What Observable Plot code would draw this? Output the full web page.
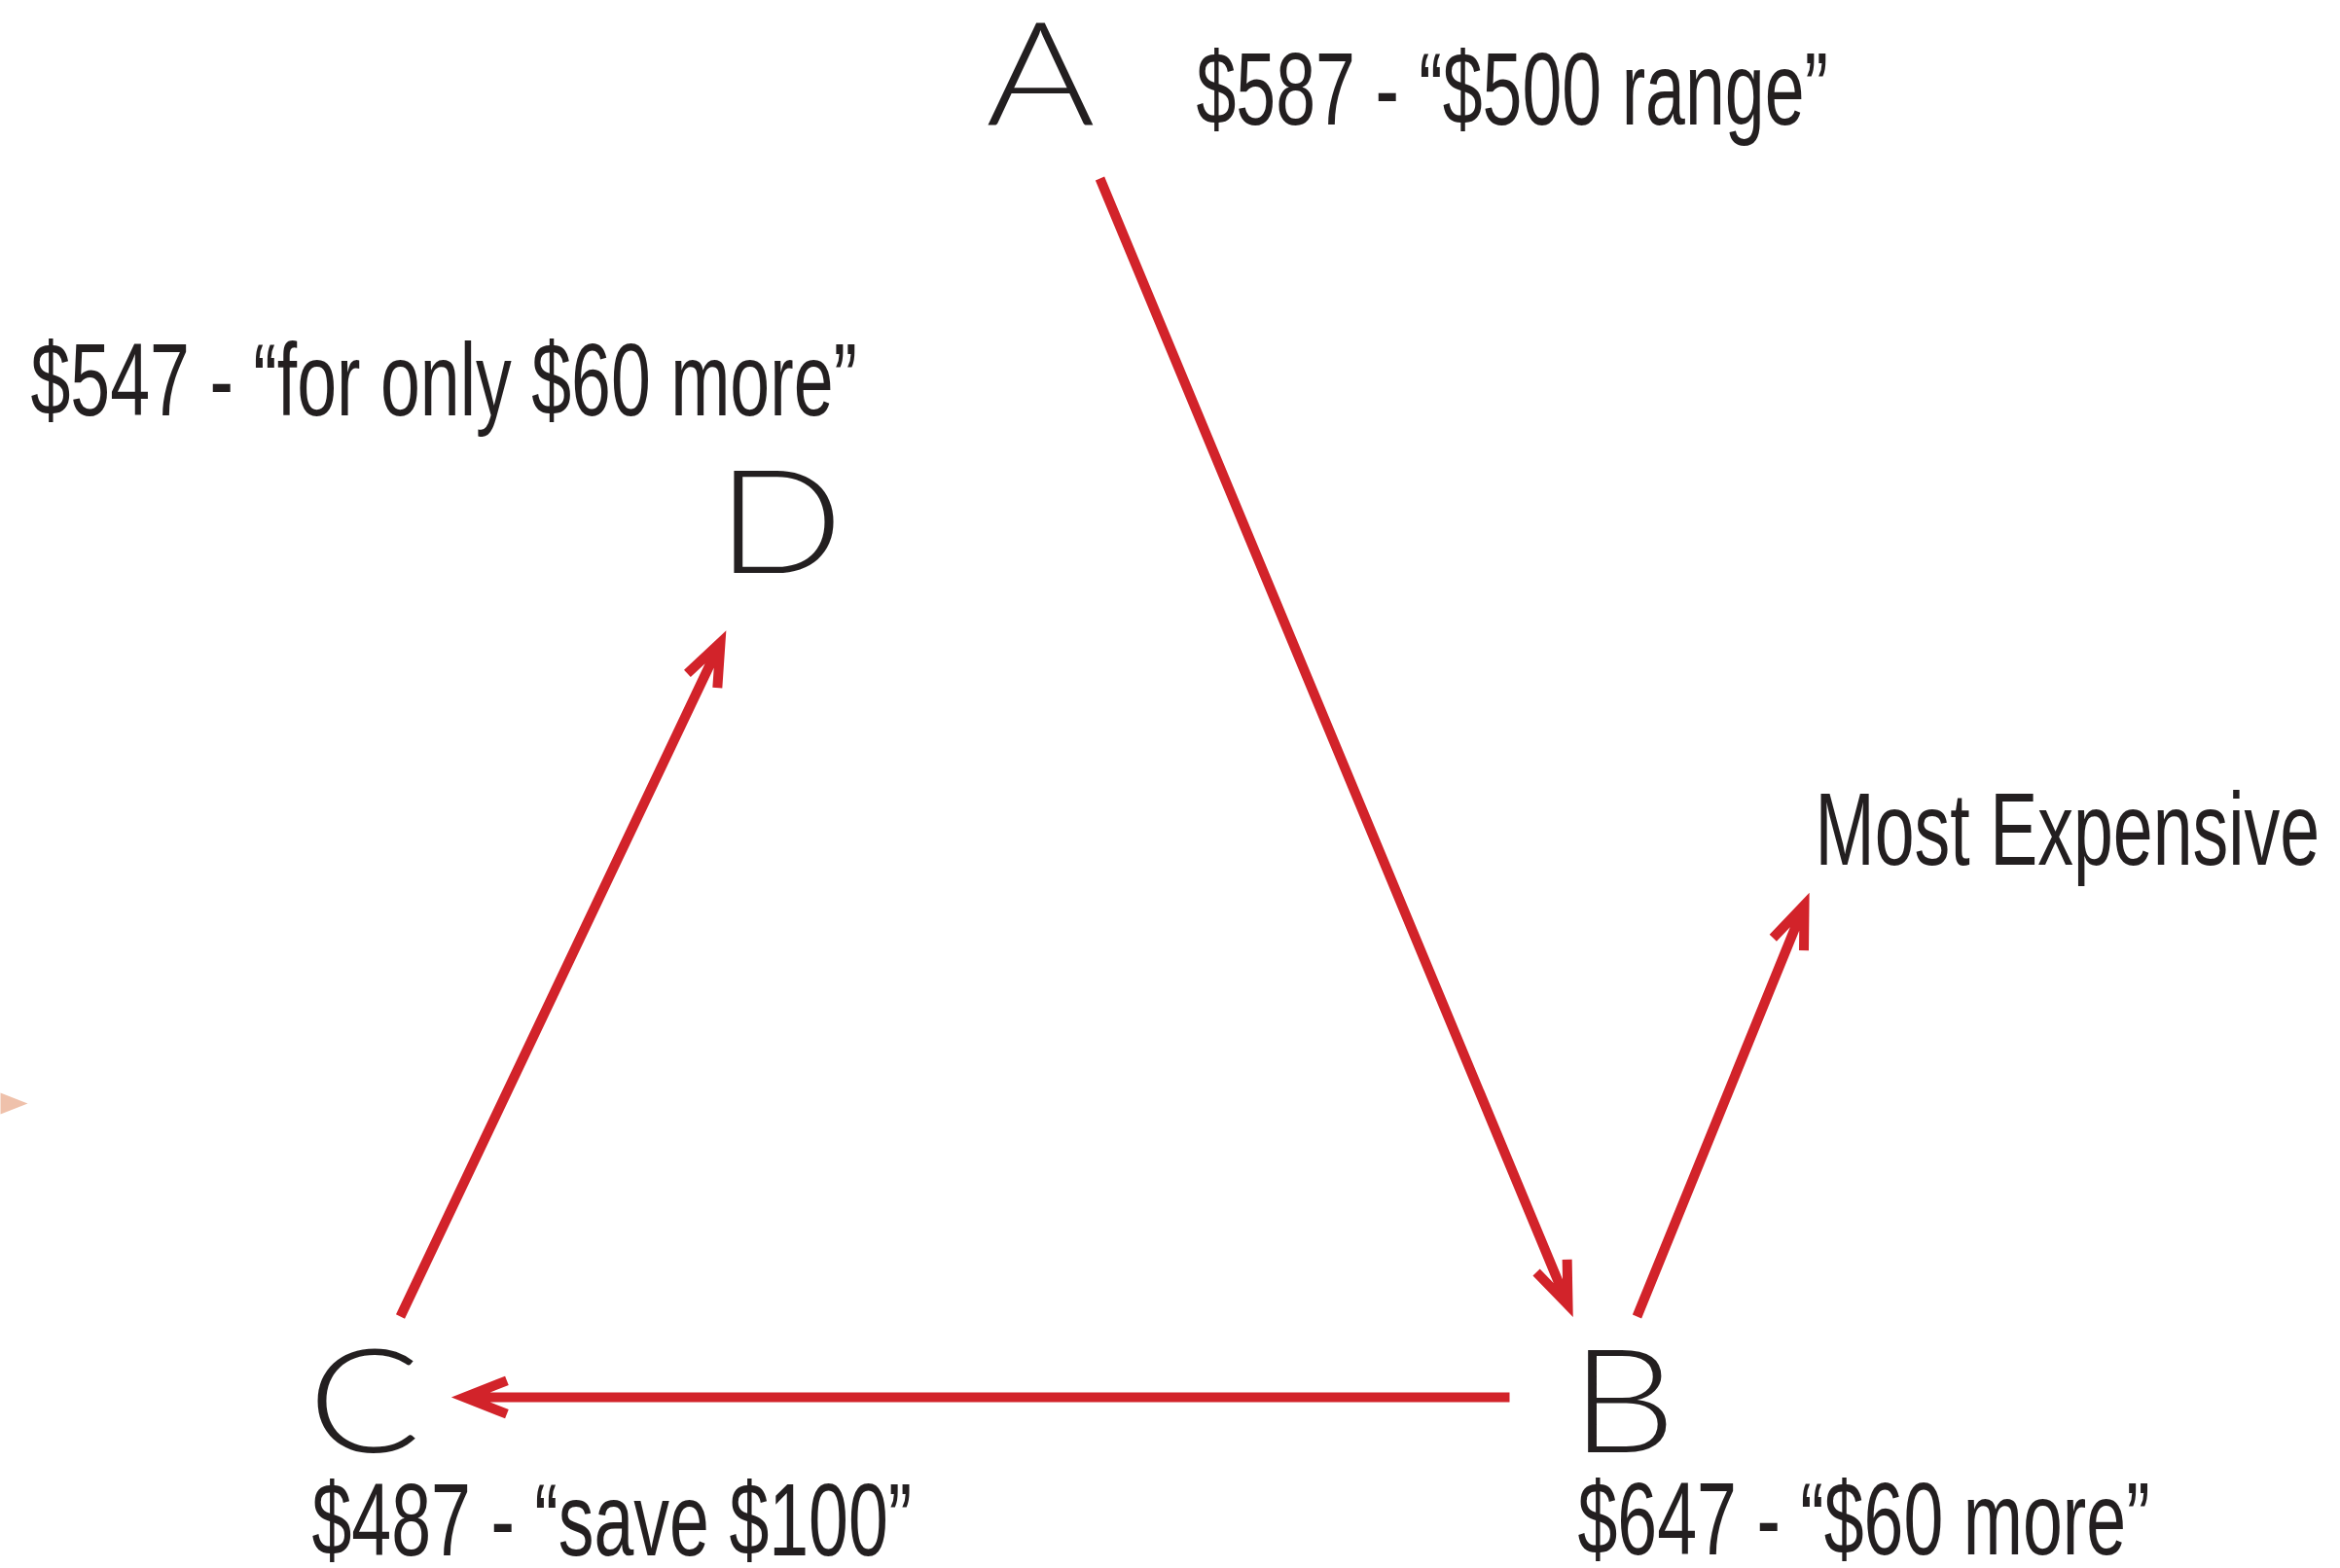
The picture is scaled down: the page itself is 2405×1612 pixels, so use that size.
<!DOCTYPE html>
<html>
<head>
<meta charset="utf-8">
<script src="https://cdn.jsdelivr.net/npm/d3@7"></script>
<script src="https://cdn.jsdelivr.net/npm/@observablehq/plot@0.6"></script>
<style>
  html, body { margin: 0; padding: 0; background: #ffffff; }
  #chart svg { display: block; }
</style>
</head>
<body>
<div id="chart"></div>
<script>
// ---- Diagram data (coordinates in diagram units, 0..2405 × 0..1612, y down) ----
const nodeLetters = ["A", "B", "C", "D"];
const nodeX = [1069, 1668, 374, 801];
const nodeY = [127, 1492, 1492, 588];

const labelTexts = [
  "$587 - “$500 range”",
  "$647 - “$60 more”",
  "$487 - “save $100”",
  "$547 - “for only $60 more”",
  "Most Expensive"
];
const labelX = [1229, 1621, 320, 31, 1865];
const labelY = [127, 1597, 1598, 426, 888];

// arrows: A→B, B→C, C→D, B→Most Expensive
const arrowX1 = [1130, 1551, 411, 1682];
const arrowY1 = [183, 1436, 1353, 1353];
const arrowX2 = [1611, 477, 740, 1854];
const arrowY2 = [1341, 1436, 660, 930];

// partial marker cut off at the left edge
const markerX = [0, 28, 0];
const markerY = [1123, 1134, 1145];

// ---- build tables ----
const nodes = nodeLetters.map((t, i) => ({t, x: nodeX[i], y: nodeY[i]}));
const labels = labelTexts.map((t, i) => ({t, x: labelX[i], y: labelY[i]}));
const arrows = arrowX1.map((_, i) => ({x1: arrowX1[i], y1: arrowY1[i], x2: arrowX2[i], y2: arrowY2[i]}));
const marker = markerX.map((x, i) => ({x, y: markerY[i]}));

const W = 2405, H = 1612;
const RED = "#d2232a";
const INK = "#231f20";

const plot = Plot.plot({
  width: W,
  height: H,
  margin: 0,
  x: {domain: [0, W], range: [0, W], axis: null},
  y: {domain: [0, H], range: [0, H], axis: null},
  style: {background: "#ffffff"},
  marks: [
    Plot.line(marker, {x: "x", y: "y", fill: "#efc1ab", stroke: "none"}),
    Plot.arrow(arrows, {
      x1: "x1", y1: "y1", x2: "x2", y2: "y2",
      stroke: RED, strokeWidth: 10, headAngle: 43, headLength: 7,
      strokeLinejoin: "miter", strokeLinecap: "butt", strokeMiterlimit: 6
    }),
    Plot.text(nodes, {
      x: "x", y: "y", text: "t",
      textAnchor: "middle", lineAnchor: "bottom",
      fontFamily: "Lato", fontWeight: 300, fontSize: 149, fill: INK
    }),
    Plot.text(labels, {
      x: "x", y: "y", text: "t",
      textAnchor: "start", lineAnchor: "bottom",
      fontFamily: "Liberation Sans", fontSize: 105, fill: INK
    })
  ]
});

document.getElementById("chart").appendChild(plot);

// horizontal scaling helper (keeps the text anchored at its position)
function squeeze(selector, k) {
  d3.select(plot).selectAll(selector).each(function () {
    const el = d3.select(this);
    const tr = el.attr("transform");
    if (tr) {
      el.attr("transform", tr + ` scale(${k},1)`);
    } else {
      const x = +el.attr("x") || 0, y = +el.attr("y") || 0;
      el.attr("x", null).attr("y", null)
        .attr("transform", `translate(${x},${y}) scale(${k},1)`);
    }
  });
}
squeeze('g[font-family="Liberation Sans"] text', 0.7);  // condensed label face
squeeze('g[font-family="Lato"] text', 1.15);            // wide geometric letters
</script>
</body>
</html>
